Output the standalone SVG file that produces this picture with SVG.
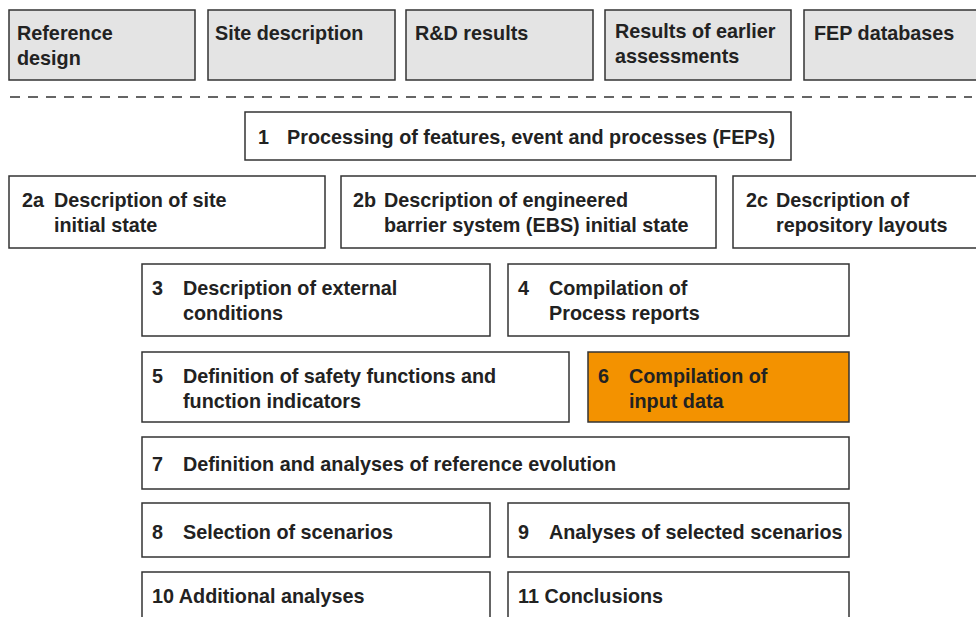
<svg xmlns="http://www.w3.org/2000/svg" width="976" height="617" viewBox="0 0 976 617">
<style>
.b{fill:#fff;stroke:#333;stroke-width:1.5}
.g{fill:#e4e4e4;stroke:#333;stroke-width:1.5}
.o{fill:#f39200;stroke:#333;stroke-width:1.5}
text{font-family:"Liberation Sans",Arial,sans-serif;font-weight:bold;font-size:19.8px;fill:#222}
</style>
<rect width="976" height="617" fill="#fff"/>
<g id="in-ref"><rect class="g" x="9" y="10" width="186" height="70"/><text x="17" y="40">Reference</text><text x="17" y="65">design</text></g>
<g id="in-site"><rect class="g" x="208" y="10" width="187" height="70"/><text x="215" y="40">Site description</text></g>
<g id="in-rd"><rect class="g" x="406" y="10" width="187" height="70"/><text x="415" y="40">R&amp;D results</text></g>
<g id="in-res"><rect class="g" x="605" y="10" width="186" height="70"/><text x="615" y="38">Results of earlier</text><text x="615" y="63">assessments</text></g>
<g id="in-fep"><rect class="g" x="804" y="10" width="180" height="70"/><text x="814" y="40">FEP databases</text></g>
<g id="connectors"><line x1="10" y1="97" x2="972" y2="97" stroke="#333" stroke-width="1.3" stroke-dasharray="10 8"/></g>
<g id="n1"><rect class="b" x="245" y="112" width="546" height="48"/><text x="258" y="144">1</text><text x="287" y="144">Processing of features, event and processes (FEPs)</text></g>
<g id="n2a"><rect class="b" x="9" y="176" width="316" height="72"/><text x="22" y="207">2a</text><text x="54" y="207">Description of site</text><text x="54" y="232">initial state</text></g>
<g id="n2b"><rect class="b" x="341" y="176" width="375" height="72"/><text x="353" y="207">2b</text><text x="384" y="207">Description of engineered</text><text x="384" y="232">barrier system (EBS) initial state</text></g>
<g id="n2c"><rect class="b" x="733" y="176" width="250" height="72"/><text x="746" y="207">2c</text><text x="776" y="207">Description of</text><text x="776" y="232">repository layouts</text></g>
<g id="n3"><rect class="b" x="142" y="264" width="348" height="72"/><text x="152" y="295">3</text><text x="183" y="295">Description of external</text><text x="183" y="320">conditions</text></g>
<g id="n4"><rect class="b" x="508" y="264" width="341" height="72"/><text x="518" y="295">4</text><text x="549" y="295">Compilation of</text><text x="549" y="320">Process reports</text></g>
<g id="n5"><rect class="b" x="142" y="352" width="427" height="70"/><text x="152" y="383">5</text><text x="183" y="383">Definition of safety functions and</text><text x="183" y="408">function indicators</text></g>
<g id="n6"><rect class="o" x="588" y="352" width="261" height="70"/><text x="598" y="383">6</text><text x="629" y="383">Compilation of</text><text x="629" y="408">input data</text></g>
<g id="n7"><rect class="b" x="142" y="437" width="707" height="52"/><text x="152" y="471">7</text><text x="183" y="471">Definition and analyses of reference evolution</text></g>
<g id="n8"><rect class="b" x="142" y="503" width="348" height="54"/><text x="152" y="539">8</text><text x="183" y="539">Selection of scenarios</text></g>
<g id="n9"><rect class="b" x="508" y="503" width="341" height="54"/><text x="518" y="539">9</text><text x="549" y="539">Analyses of selected scenarios</text></g>
<g id="n10"><rect class="b" x="142" y="572" width="348" height="60"/><text x="152" y="603">10 Additional analyses</text></g>
<g id="n11"><rect class="b" x="508" y="572" width="341" height="60"/><text x="518" y="603">11 Conclusions</text></g>
</svg>
